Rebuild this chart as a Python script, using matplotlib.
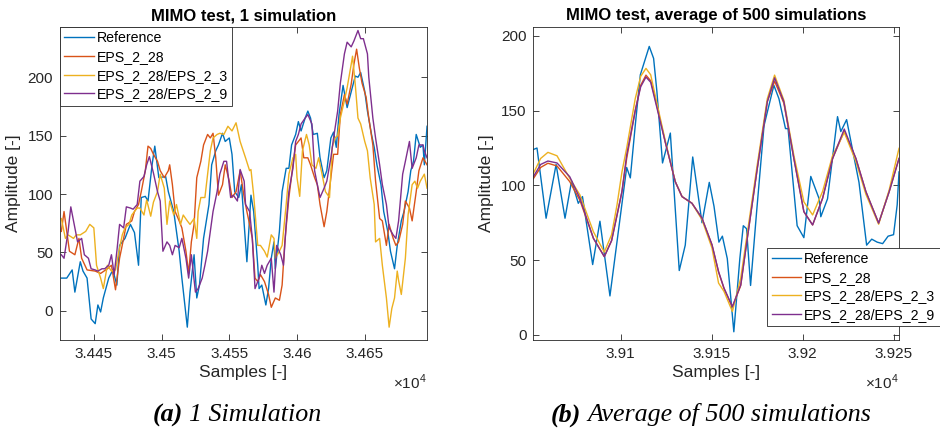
import matplotlib
matplotlib.use('Agg')
import matplotlib.pyplot as plt
from matplotlib.ticker import FuncFormatter

plt.rcParams['font.family'] = ['Liberation Sans', 'DejaVu Sans']
plt.rcParams['mathtext.fontset'] = 'custom'
plt.rcParams['mathtext.rm'] = 'Liberation Sans'

# colours (matlab default order)
c_ref = '#0072BD'
c_28 = '#D95319'
c_3 = '#EDB120'
c_9 = '#7E2F8E'
labels = ['Reference', 'EPS_2_28', 'EPS_2_28/EPS_2_3', 'EPS_2_28/EPS_2_9']

# ---- (a) 1 simulation ----
a_ref_x = [34426, 34430, 34434, 34436, 34440, 34442, 34445, 34448, 34451, 34453, 34455, 34457, 34461, 34464,
           34467, 34469, 34473, 34477, 34480, 34483, 34485, 34488, 34490, 34493, 34495, 34498, 34503, 34505,
           34509, 34513, 34515, 34519, 34521, 34524, 34526, 34528, 34531, 34535, 34537, 34540, 34542, 34545,
           34547, 34550, 34552, 34554, 34557, 34559, 34561, 34563, 34566, 34568, 34571, 34572, 34574, 34577,
           34579, 34581, 34583, 34584, 34587, 34589, 34592, 34594, 34596, 34599, 34601, 34603, 34606, 34608,
           34610, 34612, 34615, 34617, 34620, 34622, 34625, 34627, 34629, 34631, 34634, 34637, 34639, 34643,
           34645, 34647, 34650, 34652, 34655, 34657, 34659, 34662, 34664, 34667, 34669, 34672, 34674, 34677,
           34679, 34682, 34684, 34686, 34688, 34691, 34693, 34694, 34696]
a_ref_y = [28, 28, 35, 16, 42, 34, 28, -7, -11, 5, -1, 11, 28, 35,
           22, 56, 62, 74, 67, 39, 97, 98, 94, 125, 141, 114, 115, 102,
           85, 51, 28, -14, 16, 48, 11, 22, 62, 91, 125, 137, 142, 152,
           145, 148, 134, 102, 97, 108, 74, 42, 99, 85, 39, 19, 22, 5,
           19, 45, 59, 36, 68, 102, 122, 122, 142, 151, 162, 154, 165, 171,
           165, 151, 152, 131, 114, 120, 148, 153, 140, 168, 193, 174, 183, 201,
           200, 204, 188, 171, 151, 140, 125, 108, 85, 68, 51, 36, 56, 77,
           85, 102, 120, 128, 151, 140, 142, 125, 158]

a_28_x = [34426, 34428, 34430, 34432, 34436, 34439, 34441, 34445, 34451, 34455, 34460, 34463, 34466, 34469,
          34472, 34474, 34478, 34480, 34483, 34485, 34488, 34490, 34492, 34494, 34497, 34499, 34502, 34505,
          34506, 34508, 34510, 34513, 34515, 34518, 34520, 34522, 34524, 34526, 34529, 34531, 34534, 34536,
          34538, 34540, 34542, 34545, 34547, 34550, 34552, 34555, 34558, 34561, 34563, 34565, 34567, 34569,
          34571, 34573, 34576, 34579, 34581, 34584, 34587, 34589, 34591, 34594, 34597, 34599, 34601, 34603,
          34605, 34608, 34610, 34613, 34615, 34617, 34620, 34622, 34625, 34627, 34630, 34632, 34635, 34637,
          34640, 34642, 34644, 34646, 34648, 34651, 34653, 34656, 34658, 34661, 34663, 34666, 34668, 34671,
          34673, 34675, 34678, 34680, 34683, 34685, 34688, 34690, 34693, 34696]
a_28_y = [68, 85, 68, 51, 48, 62, 45, 35, 34, 32, 36, 39, 18, 45,
          62, 74, 77, 85, 91, 102, 120, 141, 139, 134, 128, 120, 114, 120,
          125, 108, 85, 77, 71, 51, 32, 59, 74, 114, 128, 142, 151, 148,
          152, 131, 99, 108, 125, 111, 97, 102, 120, 97, 85, 74, 62, 28,
          25, 31, 25, 14, 3, 11, 9, 22, 59, 97, 125, 142, 145, 148,
          131, 131, 125, 114, 108, 91, 72, 85, 114, 134, 134, 168, 185, 177,
          194, 211, 224, 208, 195, 183, 165, 142, 111, 79, 77, 56, 74, 62,
          56, 59, 74, 94, 88, 77, 102, 120, 131, 125]

a_3_x = [34426, 34429, 34431, 34435, 34437, 34440, 34444, 34447, 34450, 34452, 34455, 34457, 34460, 34463,
         34466, 34468, 34471, 34473, 34476, 34478, 34482, 34484, 34487, 34489, 34492, 34494, 34497, 34499,
         34502, 34504, 34506, 34509, 34511, 34514, 34516, 34519, 34521, 34524, 34526, 34527, 34529, 34532,
         34534, 34536, 34538, 34541, 34543, 34546, 34549, 34552, 34555, 34558, 34560, 34562, 34565, 34566,
         34568, 34571, 34573, 34576, 34578, 34581, 34583, 34584, 34587, 34589, 34592, 34594, 34597, 34599,
         34600, 34602, 34604, 34607, 34609, 34611, 34614, 34616, 34619, 34621, 34624, 34626, 34628, 34630,
         34632, 34635, 34637, 34640, 34641, 34643, 34645, 34647, 34650, 34652, 34654, 34657, 34658, 34661,
         34663, 34666, 34668, 34670, 34672, 34674, 34675, 34677, 34680, 34682, 34685, 34687, 34689, 34691,
         34694, 34696]
a_3_y = [79, 62, 65, 62, 65, 65, 68, 74, 71, 39, 28, 19, 39, 34,
         35, 48, 65, 71, 74, 82, 88, 88, 82, 95, 81, 93, 102, 117,
         105, 74, 94, 82, 91, 74, 82, 77, 74, 79, 62, 85, 97, 97,
         117, 137, 148, 151, 152, 151, 158, 154, 161, 145, 138, 131, 120, 121,
         99, 56, 56, 51, 46, 65, 62, 45, 51, 56, 91, 117, 131, 134,
         114, 98, 137, 151, 142, 125, 122, 131, 114, 102, 97, 140, 148, 150,
         165, 180, 191, 211, 218, 194, 165, 160, 145, 137, 114, 91, 59, 62,
         39, 11, -14, 2, 11, 34, 26, 14, 45, 82, 108, 111, 105, 111,
         117, 105]

a_9_x = [34426, 34428, 34431, 34433, 34436, 34438, 34441, 34443, 34446, 34448, 34451, 34453, 34456, 34458,
         34461, 34463, 34465, 34467, 34469, 34472, 34474, 34477, 34479, 34482, 34484, 34487, 34489, 34491,
         34494, 34497, 34499, 34501, 34504, 34506, 34508, 34510, 34513, 34515, 34518, 34520, 34522, 34525,
         34527, 34530, 34532, 34534, 34536, 34538, 34541, 34543, 34546, 34548, 34551, 34553, 34556, 34558,
         34561, 34562, 34565, 34567, 34569, 34572, 34574, 34576, 34578, 34581, 34583, 34585, 34588, 34590,
         34592, 34594, 34597, 34599, 34601, 34603, 34606, 34608, 34611, 34613, 34615, 34617, 34620, 34622,
         34625, 34627, 34630, 34632, 34635, 34637, 34640, 34642, 34645, 34647, 34649, 34652, 34653, 34656,
         34658, 34661, 34663, 34666, 34668, 34671, 34673, 34675, 34678, 34680, 34683, 34685, 34688, 34690,
         34693, 34694, 34696]
a_9_y = [48, 45, 68, 89, 71, 59, 62, 48, 45, 36, 35, 34, 36, 36,
         39, 48, 31, 51, 74, 71, 89, 88, 87, 91, 111, 115, 125, 132,
         118, 102, 94, 51, 59, 56, 48, 56, 54, 62, 45, 28, 48, 16,
         19, 28, 39, 51, 68, 85, 102, 117, 128, 128, 97, 99, 94, 121,
         111, 91, 85, 62, 19, 28, 39, 32, 39, 45, 16, 56, 48, 39,
         74, 102, 122, 145, 151, 160, 165, 168, 160, 120, 108, 97, 105, 111,
         131, 148, 171, 195, 220, 230, 226, 231, 240, 233, 233, 220, 200, 165,
         148, 125, 108, 91, 71, 65, 62, 77, 117, 128, 145, 122, 131, 142,
         142, 137, 131]

# ---- (b) average of 500 simulations ----
b_ref_x = [39052, 39054, 39059, 39064.5, 39069.4, 39073, 39076.7, 39079, 39084.6, 39088.6, 39094.1, 39103.3,
           39105.3, 39108, 39110.8, 39115.7, 39118.1, 39119.9, 39123, 39127.3, 39132.2, 39135.5, 39139.6,
           39144.7, 39148.7, 39151.3, 39154, 39155.9, 39158.6, 39162.2, 39165.5, 39167.4, 39169.2, 39171.4,
           39174.7, 39178.8, 39184.2, 39187, 39190.6, 39192, 39197, 39200.7, 39204.5, 39209.1, 39210, 39213.7,
           39219.2, 39221, 39224.2, 39228.4, 39231, 39235.2, 39238, 39241, 39244, 39247, 39250, 39252, 39253]
b_ref_y = [124, 125, 78, 114, 78, 103, 88, 92.5, 47, 76, 26, 112,
           105, 140, 174, 193, 185, 163, 115, 135, 43, 60, 119,
           75, 102, 86, 62, 66, 51, 2, 51, 73, 71, 33,
           82, 140, 167, 158, 138, 138, 73, 65, 106, 91, 79, 91,
           146, 136, 144, 118, 102, 60, 64, 62, 61, 66, 67, 87, 109]

b_x = [39052, 39056, 39060, 39065, 39072, 39077.6, 39085, 39091, 39095, 39098, 39100.7, 39103.3, 39108,
       39111, 39113.9, 39116.5, 39119, 39124.5, 39130, 39133.7, 39139.2, 39144.7, 39150.2, 39153.8, 39156.8,
       39161.4, 39166, 39169.6, 39175.1, 39180.6, 39184.6, 39189.7, 39195.2, 39200.7, 39205.5, 39211,
       39216.5, 39222.9, 39229.3, 39234.8, 39241.8, 39247.6, 39253]
b_28_y = [104.5, 112, 114.8, 113, 102.5, 90, 64.6, 52.3, 63, 80, 95.8, 118, 150,
          167, 173.8, 170, 158, 129, 102.5, 92.5, 88, 78, 60.2, 42, 31,
          18.5, 33, 64.6, 111.4, 156, 169.8, 155, 118, 82.4, 73.5, 91.4,
          118, 136.4, 118, 95.8, 74.7, 95.8, 118]
b_3_y = [108, 118, 122.1, 119.8, 104.7, 93.6, 69, 55.3, 67, 87, 109, 125, 158,
         173, 178.3, 174, 160, 130, 102.5, 92.5, 88, 77, 58, 34.6, 29,
         15.6, 37.9, 68, 114, 158, 173.8, 157, 120, 89, 80.2, 96,
         120, 135.5, 116, 94, 74, 97, 124.8]
b_9_y = [105.8, 114, 116.3, 115, 105.8, 91.4, 64.6, 52.3, 63, 80.2, 95.8, 120.3, 150,
         166, 172.5, 169, 156.5, 129, 102.5, 92.5, 88, 78, 60.2, 42.3, 31.2,
         18.9, 33.4, 64.6, 111.4, 156, 172, 156, 118, 82.4, 73.5, 91.4,
         118, 137.7, 118, 95.8, 74.7, 95.8, 118]

fig = plt.figure(figsize=(9.4, 4.3), dpi=100)
ax1 = fig.add_axes([0.0638, 0.2093, 0.3905, 0.7279])
ax2 = fig.add_axes([0.5674, 0.2093, 0.389, 0.7279])

lw = 1.0
ax1.plot(a_ref_x, a_ref_y, color=c_ref, lw=lw, label=labels[0])
ax1.plot(a_28_x, a_28_y, color=c_28, lw=lw, label=labels[1])
ax1.plot(a_3_x, a_3_y, color=c_3, lw=lw, label=labels[2])
ax1.plot(a_9_x, a_9_y, color=c_9, lw=lw, label=labels[3])

ax2.plot(b_ref_x, b_ref_y, color=c_ref, lw=lw, label=labels[0])
ax2.plot(b_x, b_28_y, color=c_28, lw=lw, label=labels[1])
ax2.plot(b_x, b_3_y, color=c_3, lw=lw, label=labels[2])
ax2.plot(b_x, b_9_y, color=c_9, lw=lw, label=labels[3])

ax1.set_xlim(34425, 34696)
ax1.set_ylim(-25, 243)
ax1.set_xticks([34450, 34500, 34550, 34600, 34650])
ax1.set_yticks([0, 50, 100, 150, 200])
ax1.set_title('MIMO test, 1 simulation', fontsize=12, fontweight='bold', pad=5)

ax2.set_xlim(39052, 39253)
ax2.set_ylim(-3.5, 206)
ax2.set_xticks([39100, 39150, 39200, 39250])
ax2.set_yticks([0, 50, 100, 150, 200])
ax2.set_title('MIMO test, average of 500 simulations', fontsize=12, fontweight='bold', pad=5)

for ax in [ax1, ax2]:
    ax.xaxis.set_major_formatter(FuncFormatter(lambda v, p: '%g' % (v / 1e4)))
    ax.tick_params(direction='in', top=True, right=True, length=4, width=0.6,
                   labelsize=11, colors='0.15', pad=5)
    for s in ax.spines.values():
        s.set_color('0.15')
        s.set_linewidth(0.6)
    ax.set_xlabel('Samples [-]', fontsize=12.5, color='0.15', labelpad=3)
    ax.set_ylabel('Amplitude [-]', fontsize=12.5, color='0.15', labelpad=5)
    ax.text(1.0, -0.135, r'$\times10^{4}$', transform=ax.transAxes, ha='right', va='center',
            fontsize=11, color='0.15')

leg_kw = dict(fontsize=10.2, frameon=True, fancybox=False, edgecolor='0.15', framealpha=1,
              handlelength=2.1, handletextpad=0.2, labelspacing=0.33, borderpad=0.3, borderaxespad=0)
l1 = ax1.legend(loc='upper left', bbox_to_anchor=(0, 1), **leg_kw)
l2 = ax2.legend(loc='upper left', bbox_to_anchor=(0.64, 0.295), **leg_kw)
for l in [l1, l2]:
    l.get_frame().set_linewidth(0.6)

# captions under the panels
cap = dict(family=['Liberation Serif', 'DejaVu Serif'], fontsize=18.7, style='italic', va='baseline')
fig.text(183 / 940, 0.02, '(a)', ha='right', fontweight='bold', **cap)
fig.text(189 / 940, 0.02, '1 Simulation', ha='left', **cap)
fig.text(581 / 940, 0.02, '(b)', ha='right', fontweight='bold', **cap)
fig.text(587 / 940, 0.02, 'Average of 500 simulations', ha='left', **cap)

fig.savefig('out.png', dpi=100)
